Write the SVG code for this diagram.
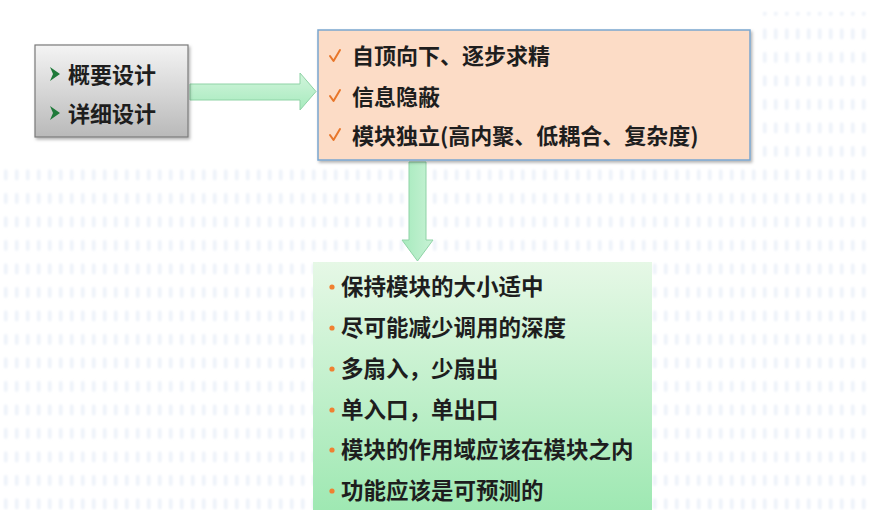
<svg xmlns="http://www.w3.org/2000/svg" width="872" height="510" viewBox="0 0 872 510">
<defs>
  <pattern id="dots" x="0" y="0" width="11" height="23.5" patternUnits="userSpaceOnUse">
    <rect x="4" y="5" width="3.5" height="11" rx="1.7" fill="#edf2f9"/>
  </pattern>
  <linearGradient id="gray" x1="0" y1="0" x2="0" y2="1">
    <stop offset="0" stop-color="#f4f4f4"/>
    <stop offset="1" stop-color="#b9b9b9"/>
  </linearGradient>
  <linearGradient id="green" x1="0" y1="0" x2="0" y2="1">
    <stop offset="0" stop-color="#e6f8e6"/>
    <stop offset="1" stop-color="#9ee8b2"/>
  </linearGradient>
  <linearGradient id="arrowG" x1="0" y1="0" x2="0" y2="1">
    <stop offset="0" stop-color="#d2f5dc"/>
    <stop offset="1" stop-color="#a6eabd"/>
  </linearGradient>
  <linearGradient id="arrowGV" x1="0" y1="0" x2="1" y2="0">
    <stop offset="0" stop-color="#a6eabd"/>
    <stop offset="1" stop-color="#c8f2d5"/>
  </linearGradient>
  <filter id="sh" x="-10%" y="-10%" width="125%" height="130%">
    <feDropShadow dx="1.5" dy="2" stdDeviation="1.5" flood-color="#000" flood-opacity="0.3"/>
  </filter>
  <filter id="blur"><feGaussianBlur stdDeviation="0.8"/></filter>
</defs>
<style>
  text { font-family: "Noto Sans CJK SC", "Noto Sans", sans-serif; font-weight: bold; font-size: 22px; fill: #1e1e1e; }
  .big { font-size: 22.5px; }
  .chk { fill: none; stroke: #e8762a; stroke-width: 2; stroke-linecap: round; stroke-linejoin: round; }
  .dot { fill: #f08030; }
  .tri { fill: #1f7a3a; }
</style>
<rect width="872" height="510" fill="#ffffff"/>
<g filter="url(#blur)">
  <rect x="760" y="12" width="112" height="498" fill="url(#dots)"/>
  <rect x="0" y="165" width="760" height="345" fill="url(#dots)"/>
</g>

<g id="connectors">
  <path d="M190,84 H300 V73 L316,91.5 L300,110 V100 H190 Z" fill="url(#arrowG)" stroke="#8fd3a6" stroke-width="1"/>
  <path d="M409,162 H426 V240 H433 L417.5,261 L402,240 H409 Z" fill="url(#arrowGV)" stroke="#8fd3a6" stroke-width="1"/>
</g>

<g id="design">
  <rect x="35" y="45" width="153" height="92" fill="url(#gray)" stroke="#7a7a7a" stroke-width="1.2" filter="url(#sh)"/>
  <path class="tri" d="M50,67 L60,74 L50,81 L53,74 Z"/>
  <text x="68" y="83">概要设计</text>
  <path class="tri" d="M50,106 L60,113 L50,120 L53,113 Z"/>
  <text x="68" y="122">详细设计</text>
</g>

<g id="principles">
  <rect x="318" y="30" width="432" height="130" fill="#fcdcc6" stroke="#7aa6cf" stroke-width="1.5" filter="url(#sh)"/>
  <path class="chk" d="M330,56 L333.5,61 L340,50"/>
  <text x="352" y="64">自顶向下、逐步求精</text>
  <path class="chk" d="M330,96 L333.5,101 L340,90"/>
  <text x="352" y="105">信息隐蔽</text>
  <path class="chk" d="M330,135 L333.5,140 L340,129"/>
  <text x="352" y="144">模块独立(高内聚、低耦合、复杂度)</text>
</g>

<g id="rules">
  <rect x="313" y="262" width="339" height="250" fill="url(#green)"/>
  <circle class="dot" cx="332" cy="287" r="2.6"/>
  <text class="big" x="341" y="295">保持模块的大小适中</text>
  <circle class="dot" cx="332" cy="328" r="2.6"/>
  <text class="big" x="341" y="336">尽可能减少调用的深度</text>
  <circle class="dot" cx="332" cy="369" r="2.6"/>
  <text class="big" x="341" y="377">多扇入，少扇出</text>
  <circle class="dot" cx="332" cy="410" r="2.6"/>
  <text class="big" x="341" y="418">单入口，单出口</text>
  <circle class="dot" cx="332" cy="450" r="2.6"/>
  <text class="big" x="341" y="458">模块的作用域应该在模块之内</text>
  <circle class="dot" cx="332" cy="491" r="2.6"/>
  <text class="big" x="341" y="499">功能应该是可预测的</text>
</g>
</svg>
